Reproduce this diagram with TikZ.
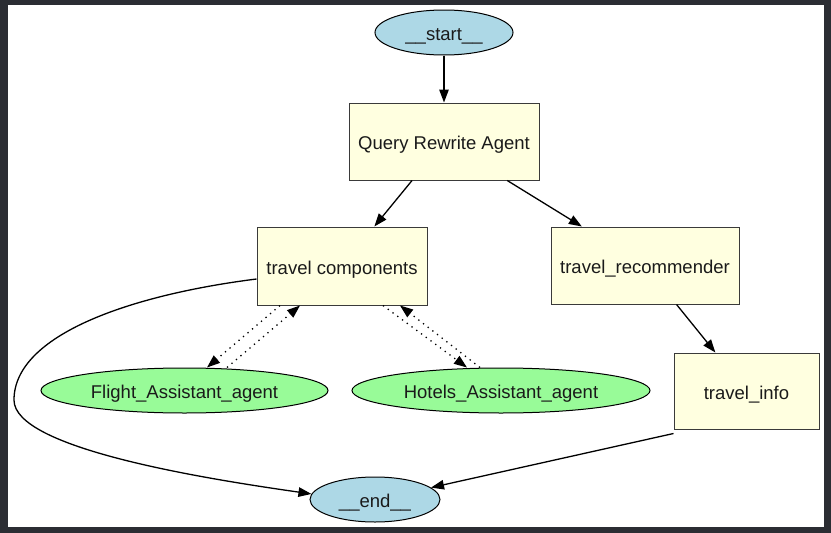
\documentclass[tikz,border=0pt]{standalone}
\usepackage{fontspec}
\setmainfont{Liberation Sans}
\usetikzlibrary{shapes.geometric,arrows.meta,calc}
\definecolor{bgdark}{HTML}{2B2D33}
\definecolor{nodeblue}{HTML}{ADD8E6}
\definecolor{nodeyellow}{HTML}{FFFFE0}
\definecolor{nodegreen}{HTML}{98FB98}
\definecolor{boxline}{HTML}{3A3A3A}
\definecolor{txt}{HTML}{1A1A1A}
\begin{document}
\begin{tikzpicture}[x=1pt,y=-1pt,
  lbl/.style={font=\fontsize{18.5}{22}\selectfont, text=txt, inner sep=0pt, text height=16pt, text depth=0pt},
  termnode/.style={lbl, ellipse, draw=black, line width=1pt, fill=nodeblue},
  agentbox/.style={lbl, rectangle, draw=boxline, line width=1pt, fill=nodeyellow},
  toolnode/.style={lbl, ellipse, draw=black, line width=1pt, fill=nodegreen},
  flow/.style={draw=black, line width=1.3pt, -{Triangle[length=13pt,width=9.5pt]}},
  dotflow/.style={draw=black, line width=1.3pt, dash pattern=on 1.3pt off 4.6pt, -{Triangle[length=13pt,width=9.5pt]}}
]
\useasboundingbox (0,0) rectangle (831,533);
\fill[bgdark] (0,0) rectangle (831,533);
\fill[white] (8,5) rectangle (824,527);

\node[termnode, minimum width=138pt, minimum height=45pt] (start) at (444,32.5) {\_\_start\_\_};
\node[agentbox, minimum width=190pt, minimum height=77pt] (qra) at (444,141.5) {Query Rewrite Agent};
\node[agentbox, minimum width=170pt, minimum height=78pt] (tc) at (342,266) {travel components};
\node[agentbox, minimum width=188pt, minimum height=77pt] (tr) at (645,265.5) {travel\_recommender};
\node[toolnode, minimum width=287pt, minimum height=45pt] (flight) at (184.5,390.5) {Flight\_Assistant\_agent};
\node[toolnode, minimum width=298pt, minimum height=45pt] (hotels) at (501,390.5) {Hotels\_Assistant\_agent};
\node[agentbox, minimum width=145pt, minimum height=76pt] (ti) at (746.5,391) {travel\_info};
\node[termnode, minimum width=130pt, minimum height=45pt] (end) at (375,499.5) {\_\_end\_\_};

\draw[flow] (start) -- (qra);
\draw[flow] (qra) -- (tc);
\draw[flow] (qra) -- (tr);
\draw[flow] (tr) -- (ti);
\draw[flow] ([yshift=-4pt]ti.south west) -- (end.12);
\draw[flow] ([yshift=-13pt]tc.west) .. controls (130,295) and (14,335) .. (14,400)
  .. controls (14,448) and (200,478) .. (end.175);

\draw[dotflow] ([xshift=-62pt]tc.south) -- ([xshift=22.5pt]flight.north);
\draw[dotflow] ([xshift=42.5pt]flight.north) -- ([xshift=-42pt]tc.south);
\draw[dotflow] ([xshift=41pt]tc.south) -- ([xshift=-34pt]hotels.north);
\draw[dotflow] ([xshift=-21pt]hotels.north) -- ([xshift=58pt]tc.south);
\end{tikzpicture}
\end{document}
